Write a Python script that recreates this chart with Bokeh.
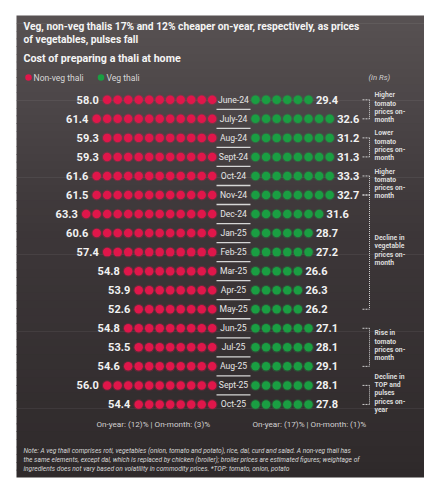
from bokeh.plotting import figure
from bokeh.models import Range1d
from bokeh.embed import file_html
from bokeh.resources import INLINE
from bokeh.core.properties import value

# ---------------- data ----------------
months = ["June-24", "July-24", "Aug-24", "Sept-24", "Oct-24", "Nov-24", "Dec-24",
          "Jan-25", "Feb-25", "Mar-25", "Apr-25", "May-25", "Jun-25", "Jul-25",
          "Aug-25", "Sept-25", "Oct-25"]
nonveg = [58.0, 61.4, 59.3, 59.3, 61.6, 61.5, 63.3, 60.6, 57.4, 54.8, 53.9, 52.6,
          54.8, 53.5, 54.6, 56.0, 54.4]
veg = [29.4, 32.6, 31.2, 31.3, 33.3, 32.7, 31.6, 28.7, 27.2, 26.6, 26.3, 26.2,
       27.1, 28.1, 29.1, 28.1, 27.8]
nonveg_dots = [11, 12, 11, 11, 12, 12, 13, 12, 11, 9, 8, 8, 9, 8, 9, 11, 8]
veg_dots = [6, 8, 8, 8, 8, 8, 7, 6, 6, 5, 5, 5, 6, 6, 6, 6, 6]

notes = [
    ("Higher\ntomato\nprices on-\nmonth", 0, 1),
    ("Lower\ntomato\nprices on-\nmonth", 2, 3),
    ("Higher\ntomato\nprices on-\nmonth", 4, 5),
    ("Decline in\nvegetable\nprices on-\nmonth", 5, 11),
    ("Rise in\ntomato\nprices on-\nmonth", 12, 14),
    ("Decline in\nTOP and\npulses\nprices on-\nyear", 15, 16),
]

title1 = "Veg, non-veg thalis 17% and 12% cheaper on-year, respectively, as prices"
title2 = "of vegetables, pulses fall"
subtitle = "Cost of preparing a thali at home"
summary_nonveg = "On-year: (12)% | On-month: (3)%"
summary_veg = "On-year: (17)% | On-month: (1)%"
footnote = [
    "Note: A veg thali comprises roti, vegetables (onion, tomato and potato), rice, dal, curd and salad. A non-veg thali has",
    "the same elements, except dal, which is replaced by chicken (broiler); broiler prices are estimated figures; weightage of",
    "ingredients does not vary based on volatility in commodity prices. *TOP: tomato, onion, potato",
]

# ---------------- layout ----------------
ROW0, ROWH = 99.3, 19.04
RED_END, RED_STEP = 211.7, 10.5
GRN_START, GRN_STEP = 255.0, 10.6
MONTH_X = 233.0
RED = "#e0164a"
GREEN = "#1a9e42"
FONT = value("Roboto")
OFF = 0  # page offset of the figure origin

p = figure(width=424, height=480, x_range=Range1d(OFF, 424 + OFF),
           y_range=Range1d(480 + OFF, OFF),
           output_backend="svg", toolbar_location=None, min_border=0,
           x_axis_location=None, y_axis_location=None)
p.xgrid.visible = False
p.ygrid.visible = False
p.outline_line_color = None
p.background_fill_color = "white"
p.border_fill_color = "white"

# background panel with a soft vertical gradient
def mix(c1, c2, t):
    a = [int(c1[i:i + 2], 16) for i in (1, 3, 5)]
    b = [int(c2[i:i + 2], 16) for i in (1, 3, 5)]
    return "#%02x%02x%02x" % tuple(round(a[k] + (b[k] - a[k]) * t) for k in range(3))

top_y, bot_y, nstrip = 15.0, 477.0, 60
h = (bot_y - top_y) / nstrip
lefts, rights, tops, bottoms, cols = [], [], [], [], []
for s in range(nstrip):
    t = s / (nstrip - 1)
    c = mix("#575152", "#3d3739", t / 0.45) if t < 0.45 else mix("#3d3739", "#2f2a2b", (t - 0.45) / 0.55)
    lefts.append(16); rights.append(424)
    tops.append(top_y + s * h); bottoms.append(min(bot_y, top_y + (s + 1) * h + 0.6))
    cols.append(c)
p.quad(left=lefts, right=rights, top=tops, bottom=bottoms, color=cols, line_color=None)

def txt(x, y, t, size, style="normal", color="#eeeeee", align="left"):
    p.text(x=[x], y=[y], text=[t], text_font=FONT, text_font_size=size,
           text_font_style=style, text_color=color, text_align=align,
           text_baseline="middle")

# titles
txt(23, 26, title1, "10.25px", "bold", "#f5f5f5")
txt(23, 39, title2, "10.25px", "bold", "#f5f5f5")
txt(23, 58, subtitle, "10.7px", "bold", "#f5f5f5")

# legend
p.scatter([28], [77], size=6.5, color=RED, marker="circle", line_color=None)
txt(33, 77, "Non-veg thali", "8.6px", "normal", "#d8d8d8")
p.scatter([100.5], [77], size=6.5, color=GREEN, marker="circle", line_color=None)
txt(106, 77, "Veg thali", "8.6px", "normal", "#d8d8d8")
txt(368, 77, "(in Rs)", "7.8px", "italic", "#cfcfcf")

# dots
rows_y = [ROW0 + i * ROWH for i in range(len(months))]
rx, ry, gx, gy = [], [], [], []
nv_lab_x, v_lab_x = [], []
for i, y in enumerate(rows_y):
    for k in range(nonveg_dots[i]):
        rx.append(RED_END - k * RED_STEP); ry.append(y)
    nv_lab_x.append(RED_END - (nonveg_dots[i] - 1) * RED_STEP - 8.5)
    for k in range(veg_dots[i]):
        gx.append(GRN_START + k * GRN_STEP); gy.append(y)
    v_lab_x.append(GRN_START + (veg_dots[i] - 1) * GRN_STEP + 7.5)

p.scatter(rx, ry, size=10.8, color=RED, alpha=0.25, line_color=None)
p.scatter(rx, ry, size=8.5, color=RED, line_color=None)
p.scatter(gx, gy, size=10.8, color=GREEN, alpha=0.25, line_color=None)
p.scatter(gx, gy, size=8.5, color=GREEN, line_color=None)

# value labels
p.text(x=nv_lab_x, y=rows_y, text=["%.1f" % v for v in nonveg], text_font=FONT,
       text_font_size="11px", text_font_style="bold", text_color="#f2f2f2",
       text_align="right", text_baseline="middle")
p.text(x=v_lab_x, y=rows_y, text=["%.1f" % v for v in veg], text_font=FONT,
       text_font_size="11px", text_font_style="bold", text_color="#f2f2f2",
       text_align="left", text_baseline="middle")

# month labels and separators
p.text(x=[MONTH_X] * len(months), y=rows_y, text=months, text_font=FONT,
       text_font_size="8.6px", text_color="#e6e6e6", text_align="center",
       text_baseline="middle")
sep_y = [(rows_y[i] + rows_y[i + 1]) / 2 for i in range(len(months) - 1)]
p.segment(x0=[216] * len(sep_y), x1=[250] * len(sep_y), y0=sep_y, y1=sep_y,
          line_color="#d6d6d6", line_width=1.3)

# summary lines
txt(96, 423, summary_nonveg, "8.1px", "normal", "#d2d2d2")
txt(252, 423, summary_veg, "8.1px", "normal", "#d2d2d2")

# annotation brackets
BX = 369
LINE_H = 8.3
for label, a, b in notes:
    ya, yb = rows_y[a], rows_y[b]
    p.segment(x0=[BX], x1=[BX], y0=[ya], y1=[yb], line_color="#cfcfcf",
              line_width=1, line_dash="1 1")
    p.segment(x0=[362, 362], x1=[BX, BX], y0=[ya, yb], y1=[ya, yb],
              line_color="#cfcfcf", line_width=1, line_dash="2 1")
    parts = label.split("\n")
    c = (ya + yb) / 2 - 1.5
    for k, part in enumerate(parts):
        txt(374, c + (k - (len(parts) - 1) / 2) * LINE_H, part, "6.8px", "bold", "#dcdcdc")

# footnote
for j, line in enumerate(footnote):
    txt(23, 450 + j * 9.1, line, "6.6px", "italic", "#d6d6d6")

open("out.html", "w").write(file_html(p, INLINE))
